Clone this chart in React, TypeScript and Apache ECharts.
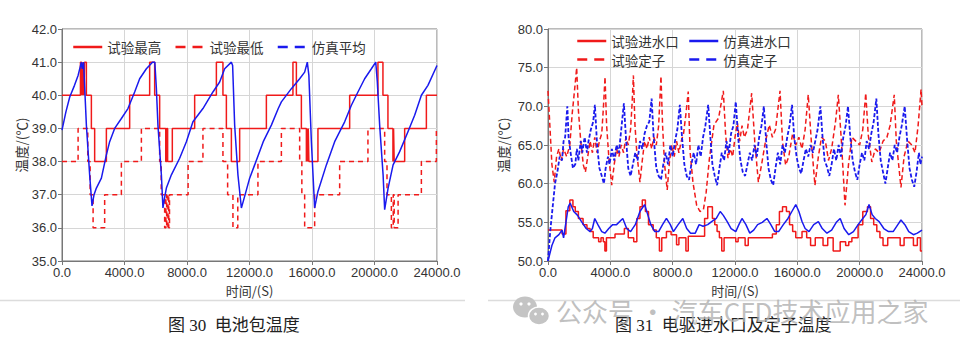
import React, { useEffect, useRef } from "react";
import * as echarts from "echarts";

// ---------- Figure 30: battery pack temperature (time s, temp °C) ----------
const batteryMaxTest: number[][] = [
  [0, 40], [1180, 41], [1250, 40], [1290, 41], [1330, 40], [1370, 41], [1410, 40], [1440, 41],
  [1560, 40], [1880, 39], [2090, 38], [2840, 39], [4330, 40], [5610, 41], [5930, 40], [6250, 39],
  [6640, 38], [6700, 39], [6760, 38], [7060, 39], [8490, 40], [9880, 41], [10300, 40], [10520, 39],
  [10840, 38], [11370, 39], [13080, 40], [14780, 41], [15000, 40], [15320, 39], [15640, 38], [15680, 39],
  [15720, 38], [15760, 39], [15800, 38], [16380, 39], [18410, 40], [20220, 41], [20540, 40], [20860, 39],
  [21180, 38], [21220, 39], [21260, 38], [21930, 39], [23320, 40], [24000, 40],
];
const batteryMinTest: number[][] = [
  [0, 38], [1030, 39], [1650, 38], [1800, 37], [1990, 36], [2730, 37], [3800, 38], [5080, 39],
  [6250, 38], [6350, 37], [6570, 36], [6650, 37], [6700, 36], [6780, 37], [6830, 36], [6880, 37],
  [8070, 38], [9020, 39], [10300, 38], [10600, 37], [10940, 36], [11250, 37], [12540, 38], [14040, 39],
  [15210, 38], [15350, 37], [15530, 36], [16170, 37], [17770, 38], [19580, 39], [20650, 38], [20800, 37],
  [21080, 36], [21200, 37], [21260, 36], [21510, 37], [23000, 38], [23960, 39], [24000, 39],
];
const batteryAvgSim: number[][] = [
  [0, 38.95], [250, 39.5], [495, 39.95], [800, 40.3], [1030, 40.6], [1240, 41.0], [1300, 40.8], [1380, 41.0],
  [1560, 39.1], [1770, 37.6], [1920, 36.66], [2050, 37.0], [2200, 37.2], [2520, 37.5], [2840, 38.2], [3050, 38.6],
  [3370, 39.0], [3800, 39.3], [4220, 39.6], [4650, 40.1], [4970, 40.5], [5400, 40.8], [5790, 41.0], [5940, 41.0],
  [6040, 40.2], [6140, 39.1], [6360, 37.6], [6460, 36.6], [6560, 36.9], [6680, 37.2], [7000, 37.6], [7530, 38.1],
  [7960, 38.6], [8380, 39.2], [9020, 39.6], [9660, 40.1], [10090, 40.4], [10410, 40.8], [10840, 41.0], [10920, 40.9],
  [11050, 39.1], [11260, 37.6], [11480, 36.6], [11600, 36.8], [12010, 37.5], [12330, 37.9], [12880, 38.6], [13400, 39.1],
  [13840, 39.6], [14040, 39.8], [14680, 40.2], [15210, 40.5], [15530, 40.7], [15700, 41.0], [15800, 40.6], [15960, 38.6],
  [16170, 36.6], [16380, 37.1], [16920, 37.9], [17450, 38.6], [18090, 39.2], [18520, 39.7], [18940, 40.1], [19370, 40.5],
  [19800, 40.8], [20080, 41.0], [20180, 40.4], [20330, 39.1], [20550, 37.6], [20650, 36.55], [20870, 37.2], [21190, 37.9],
  [21610, 38.3], [22140, 38.9], [22570, 39.4], [23000, 40.0], [23420, 40.3], [24000, 40.9],
];

// ---------- Figure 31: e-drive inlet & stator temperature ----------
const inletTest: number[][] = [
  [0, 54], [900, 53.5], [1150, 56.5], [1400, 57.9], [1600, 57], [1750, 56.4], [1950, 55.5], [2250, 54.7],
  [2500, 54.2], [2700, 53.8], [2900, 53], [3250, 52.5], [3400, 53], [3550, 52.5], [3650, 51.3], [3750, 53],
  [4300, 53.5], [4900, 54.2], [5150, 53], [5500, 52.5], [5700, 55.5], [5900, 57], [6050, 57.9], [6250, 56.4],
  [6450, 54.7], [6750, 54], [6950, 53], [7150, 51.3], [7300, 53], [7600, 53.8], [7900, 53.4], [8250, 52.1],
  [8400, 53], [8850, 51.3], [9000, 53.2], [9900, 53.2], [10050, 55.5], [10250, 57], [10550, 55.5], [10700, 54.7],
  [10850, 53.8], [11000, 53], [11150, 51.3], [11300, 53], [12050, 52.5], [12200, 53], [12650, 52], [12850, 53],
  [14400, 53.5], [14650, 54.7], [14850, 56.4], [15050, 57], [15300, 56.4], [15500, 54.7], [15700, 53.8], [15900, 53],
  [16300, 53.8], [16600, 53], [16850, 52], [17150, 53], [17650, 52], [17950, 53], [18300, 51.3], [18650, 51.3],
  [18750, 52.5], [19100, 52], [19300, 52.5], [19500, 53], [19900, 54.7], [20200, 56.4], [20500, 57], [20700, 55.5],
  [20900, 54.7], [21100, 53.8], [21300, 53], [21500, 52], [21800, 53], [22400, 53], [22600, 52], [22850, 53],
  [23200, 53], [23450, 52], [23700, 53], [23900, 51.3], [24000, 51.3],
];
const inletSim: number[][] = [
  [0, 50], [250, 52], [450, 53], [700, 53.4], [900, 54], [1000, 53], [1150, 55], [1300, 57], [1420, 57.5],
  [1650, 56.4], [1900, 55.9], [2150, 55.1], [2450, 54.2], [2700, 53.8], [2850, 54.2], [3000, 55.5], [3200, 54.7],
  [3450, 53.8], [3650, 53.6], [3900, 54.2], [4150, 54.7], [4400, 54.7], [4800, 55.5], [5050, 54.2], [5300, 53.8],
  [5600, 54.7], [5900, 56.4], [6200, 57.3], [6400, 56], [6600, 54.7], [6850, 53.8], [7100, 53.8], [7350, 54.7],
  [7600, 55.5], [7850, 54.7], [8050, 53.8], [8350, 54.7], [8650, 55.5], [8900, 54.2], [9150, 53.6], [9450, 53.6],
  [9700, 54.7], [9950, 54.5], [10250, 54.7], [10500, 55.1], [10800, 55.5], [11050, 56.4], [11250, 55.9], [11500, 55.1],
  [11750, 54.2], [12050, 53.8], [12250, 54.7], [12450, 55.5], [12700, 54.7], [12950, 53.6], [13200, 54], [13450, 54.7],
  [13750, 55], [14050, 55.5], [14300, 54.7], [14550, 53.8], [14800, 53.8], [15100, 54.7], [15400, 55.5], [15650, 56.4],
  [15900, 57.3], [16100, 56.4], [16300, 55.1], [16500, 54.2], [16750, 53.8], [17050, 54.7], [17350, 55.1], [17600, 54.2],
  [17900, 53.6], [18200, 54], [18500, 55], [18750, 55.5], [19000, 54.2], [19300, 53.4], [19600, 53.8], [19900, 54.7],
  [20200, 55.5], [20400, 56], [20600, 57.3], [20800, 56], [21000, 55.5], [21250, 55.1], [21550, 54.2], [21850, 53.8],
  [22150, 53.8], [22450, 54.7], [22650, 55.3], [22900, 54.7], [23150, 53.8], [23450, 53.4], [23700, 53.6], [24000, 54],
];
const statorTest: number[][] = [
  [0, 72], [120, 67.5], [250, 62.5], [400, 60.2], [550, 63.5], [700, 64.5], [850, 63], [1000, 64.5],
  [1200, 63.5], [1400, 65], [1550, 69], [1700, 72], [1840, 75], [1950, 69.5], [2100, 65.5], [2270, 62.4],
  [2400, 61.5], [2550, 63.5], [2700, 65.5], [2850, 64], [3000, 66], [3150, 64], [3300, 65.5], [3450, 66.5],
  [3560, 70], [3660, 73.8], [3760, 67.6], [3900, 63.5], [4090, 59.8], [4250, 62.5], [4400, 64.5], [4550, 63.5],
  [4700, 65], [4850, 64], [5000, 66], [5150, 65], [5300, 67], [5400, 70.5], [5480, 74], [5580, 67.6],
  [5700, 64], [5900, 60.2], [6050, 63], [6200, 65.5], [6350, 64.5], [6500, 66], [6650, 64.5], [6800, 66],
  [6950, 65], [7100, 67.5], [7250, 73.9], [7350, 67.6], [7480, 62.5], [7650, 59.2], [7800, 63], [7950, 65],
  [8100, 63.5], [8250, 65.5], [8400, 64], [8550, 65.5], [8700, 66.5], [8850, 69], [9000, 71.9], [9120, 64.1],
  [9300, 60.2], [9540, 57.2], [9750, 56.4], [9970, 56.6], [10150, 58.9], [10350, 63.1], [10650, 67.6], [10950, 68.5],
  [11250, 72], [11400, 66.3], [11550, 63.3], [11700, 64.5], [11850, 63.5], [12000, 66], [12150, 67.9], [12300, 65.5],
  [12450, 67.5], [12600, 66], [12800, 67], [13070, 71.7], [13270, 65.4], [13500, 60.2], [13700, 62.4], [13950, 65.4],
  [14200, 67.6], [14400, 66], [14600, 67], [14890, 72], [15050, 65.4], [15250, 62.4], [15450, 63.5], [15700, 66.5],
  [15900, 65], [16100, 66], [16300, 64.5], [16500, 67], [16700, 71.5], [16900, 65.4], [17130, 59.8], [17350, 63.5],
  [17550, 66], [17800, 65.5], [18000, 63], [18200, 64.5], [18450, 68], [18630, 71.5], [18830, 65.4], [19060, 57.2],
  [19280, 62.4], [19500, 66], [19750, 65.5], [20000, 65], [20200, 67], [20390, 71.7], [20550, 66.3], [20780, 62.8],
  [21000, 64.5], [21250, 64], [21500, 65.5], [21750, 66], [21950, 67.5], [22220, 71.5], [22350, 65.5], [22650, 59.5],
  [22850, 63.5], [23100, 65.5], [23350, 65], [23550, 64], [23750, 67.5], [23940, 72.2], [24000, 70],
];
const statorSim: number[][] = [
  [0, 50], [150, 54], [300, 57], [450, 60], [600, 61.5], [750, 63.5], [900, 63], [1000, 65.5], [1100, 66],
  [1240, 70], [1320, 66], [1450, 64], [1600, 62], [1750, 62.5], [1850, 64.5], [1950, 63], [2100, 65.5], [2200, 64],
  [2350, 66], [2500, 64], [2600, 65.5], [2750, 67], [2900, 68], [3010, 70.2], [3150, 65], [3300, 62], [3450, 61],
  [3590, 60], [3700, 62], [3850, 63.5], [3950, 62.5], [4100, 64.5], [4250, 63], [4400, 65], [4550, 64], [4700, 67],
  [4870, 70.4], [5000, 66], [5150, 62], [5300, 61], [5450, 62.5], [5600, 64], [5750, 63], [5900, 65.5], [6050, 64.5],
  [6200, 66.5], [6350, 67.5], [6500, 68], [6650, 71], [6780, 66], [6950, 62], [7100, 61], [7250, 60.5], [7400, 62.5],
  [7550, 64], [7700, 62.5], [7850, 65], [8000, 63.5], [8150, 65.5], [8300, 67], [8460, 70.2], [8600, 66], [8750, 62.5],
  [8900, 61], [9050, 60.5], [9200, 62.5], [9350, 64], [9500, 62.5], [9650, 65], [9800, 63.5], [9950, 66], [10100, 67.5],
  [10280, 70.2], [10420, 66], [10550, 62.5], [10700, 61], [10850, 59.8], [11000, 62], [11150, 64], [11300, 63], [11450, 65.5],
  [11600, 64], [11750, 66.5], [11900, 67.5], [12050, 70.6], [12200, 66], [12350, 63], [12500, 61.5], [12650, 61], [12800, 62.5],
  [12950, 64], [13100, 63], [13250, 65], [13400, 63.5], [13550, 66], [13700, 67.5], [13850, 70], [14000, 65.5], [14150, 62],
  [14300, 60.5], [14450, 59.8], [14600, 62], [14750, 64], [14900, 62.5], [15050, 65], [15200, 64], [15350, 66], [15500, 67.5],
  [15660, 70.2], [15800, 66], [15950, 63.5], [16100, 62], [16250, 61.3], [16400, 63], [16550, 64.5], [16700, 63.5], [16850, 65],
  [17000, 64], [17150, 65.5], [17300, 67], [17480, 70], [17620, 66], [17750, 63], [17900, 62.2], [18050, 61], [18200, 62.5],
  [18350, 64.5], [18500, 63], [18650, 65], [18800, 63.5], [18950, 66], [19100, 67.5], [19250, 70], [19400, 66], [19550, 63],
  [19700, 61.5], [19850, 60.5], [20000, 62.5], [20150, 64], [20300, 63], [20450, 65.5], [20600, 64.5], [20750, 66.5], [20900, 68],
  [21070, 71], [21200, 66.5], [21350, 63], [21500, 61.5], [21650, 60], [21800, 62], [21950, 64], [22100, 63], [22250, 65],
  [22400, 64], [22550, 66], [22700, 67.5], [22890, 70], [23050, 65.5], [23200, 62], [23350, 60.5], [23500, 59.6], [23650, 61.5],
  [23800, 64], [23900, 62.5], [24000, 63.5],
];

const RED = "#f01a1a";
const BLUE = "#1a1aee";
const SANS = "'Liberation Sans', Arial, 'Noto Sans CJK SC', sans-serif";
const CJK = "'Noto Sans CJK SC', 'Liberation Sans', sans-serif";
const SERIF = "'Liberation Serif', 'Noto Sans CJK SC', serif";

function xAxisFor(gridIndex: number) {
  return {
    gridIndex,
    type: "value",
    min: 0,
    max: 24000,
    interval: 4000,
    name: "时间/(S)",
    nameLocation: "middle",
    nameGap: 21,
    nameTextStyle: { color: "#333", fontSize: 13, fontFamily: CJK },
    axisLine: { show: true, lineStyle: { color: "#777", width: 1 } },
    axisTick: { show: true, length: 4, lineStyle: { color: "#777" } },
    axisLabel: { color: "#333", fontSize: 13, fontFamily: SANS, margin: 5, formatter: (v: number) => v.toFixed(1) },
    splitLine: { show: true, lineStyle: { color: "#d6d6d6", width: 1 } },
  };
}
function yAxisFor(gridIndex: number, min: number, max: number, interval: number, gap: number) {
  return {
    gridIndex,
    type: "value",
    min,
    max,
    interval,
    name: "温度/(℃)",
    nameLocation: "middle",
    nameGap: gap,
    nameTextStyle: { color: "#333", fontSize: 13.5, fontFamily: CJK },
    axisLine: { show: true, lineStyle: { color: "#777", width: 1 } },
    axisTick: { show: true, length: 4, lineStyle: { color: "#777" } },
    axisLabel: { color: "#333", fontSize: 13, fontFamily: SANS, margin: 5, formatter: (v: number) => v.toFixed(1) },
    splitLine: { show: true, lineStyle: { color: "#d6d6d6", width: 1 } },
  };
}

function lineSeries(name: string, data: number[][], axis: number, color: string, dashed: boolean, step: boolean, dash: number[] = [5, 4], width = 1.5) {
  return {
    name,
    type: "line",
    xAxisIndex: axis,
    yAxisIndex: axis,
    data,
    step: step ? "end" : undefined,
    showSymbol: false,
    symbol: "none",
    lineStyle: { color, width, type: dashed ? dash : "solid" },
    itemStyle: { color },
    z: color === BLUE ? 3 : 2,
  };
}

const legendCommon = {
  itemWidth: 29,
  itemHeight: 14,
  padding: 0,
  textStyle: { color: "#333", fontSize: 13.5, lineHeight: 14, fontFamily: CJK },
  lineStyle: { width: 2.5 },
  itemStyle: { opacity: 0 },
};

export default function App() {
  const ref = useRef<HTMLDivElement>(null);
  useEffect(() => {
    document.body.style.margin = "0";
    const chart = echarts.init(ref.current!, null, { renderer: "svg" });
    const legendDash = { type: [10, 7] };
    chart.setOption({
      animation: false,
      backgroundColor: "#ffffff",
      grid: [
        { left: 62, top: 29, width: 375, height: 232, show: true, borderColor: "#777", borderWidth: 1, backgroundColor: "transparent" },
        { left: 548, top: 29, width: 374, height: 232, show: true, borderColor: "#777", borderWidth: 1, backgroundColor: "transparent" },
      ],
      xAxis: [xAxisFor(0), xAxisFor(1)],
      yAxis: [yAxisFor(0, 35, 42, 1, 32), yAxisFor(1, 50, 80, 5, 38)],
      legend: [
        {
          ...legendCommon,
          left: 72,
          top: 40,
          itemGap: 13,
          data: ["试验最高", { name: "试验最低", lineStyle: legendDash }, { name: "仿真平均", lineStyle: legendDash }],
        },
        {
          ...legendCommon,
          left: 576,
          top: 34,
          orient: "vertical",
          itemGap: 4.6,
          data: ["试验进水口", { name: "试验定子", lineStyle: legendDash }],
        },
        {
          ...legendCommon,
          left: 688,
          top: 34,
          orient: "vertical",
          itemGap: 4.6,
          data: ["仿真进水口", { name: "仿真定子", lineStyle: legendDash }],
        },
      ],
      series: [
        lineSeries("试验最高", batteryMaxTest, 0, RED, false, true),
        lineSeries("试验最低", batteryMinTest, 0, RED, true, true),
        lineSeries("仿真平均", batteryAvgSim, 0, BLUE, false, false),
        lineSeries("试验定子", statorTest, 1, RED, true, false, [5, 3]),
        lineSeries("试验进水口", inletTest, 1, RED, false, true),
        lineSeries("仿真定子", statorSim, 1, BLUE, true, false, [4, 2], 1.8),
        lineSeries("仿真进水口", inletSim, 1, BLUE, false, false),
      ],
      graphic: [
        { type: "line", shape: { x1: 0, y1: 300.5, x2: 465, y2: 300.5 }, style: { stroke: "#dcdcdc", lineWidth: 1.5 } },
        { type: "line", shape: { x1: 488, y1: 300.5, x2: 960, y2: 300.5 }, style: { stroke: "#dcdcdc", lineWidth: 1.5 } },
        {
          type: "text",
          left: 168,
          top: 317,
          style: { text: "图 30  电池包温度", fill: "#222", font: `17px ${SERIF}` },
        },
        {
          type: "text",
          left: 615,
          top: 317,
          style: { text: "图 31  电驱进水口及定子温度", fill: "#222", font: `17px ${SERIF}` },
        },
        { type: "ellipse", shape: { cx: 525, cy: 307, rx: 12, ry: 10.5 }, style: { fill: "#c4c4c4" } },
        { type: "circle", shape: { cx: 521, cy: 304, r: 1.6 }, style: { fill: "#fff" } },
        { type: "circle", shape: { cx: 529, cy: 304, r: 1.6 }, style: { fill: "#fff" } },
        { type: "ellipse", shape: { cx: 539, cy: 316, rx: 10.5, ry: 9 }, style: { fill: "#c4c4c4", stroke: "#fff", lineWidth: 1.5 } },
        { type: "circle", shape: { cx: 535.5, cy: 314, r: 1.4 }, style: { fill: "#fff" } },
        { type: "circle", shape: { cx: 542.5, cy: 314, r: 1.4 }, style: { fill: "#fff" } },
        {
          type: "text",
          left: 556,
          top: 297,
          style: { text: "公众号 · 汽车CFD技术应用之家", fill: "rgba(175,175,175,0.8)", font: `26px ${CJK}` },
        },
      ],
    });
    return () => chart.dispose();
  }, []);
  return <div ref={ref} style={{ position: "absolute", left: 0, top: 0, width: 960, height: 351 }} />;
}
